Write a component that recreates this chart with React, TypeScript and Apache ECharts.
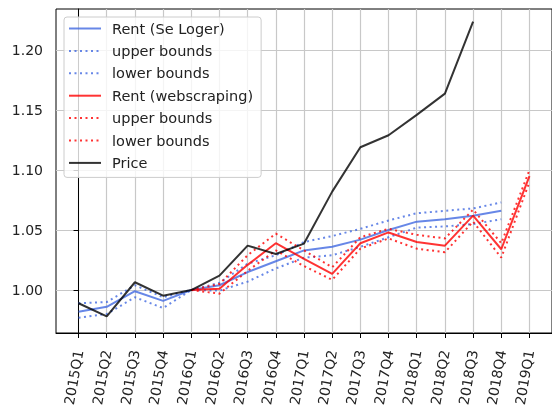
import React, { useEffect, useRef } from "react";
import * as echarts from "echarts";

const categories = [
  "2015Q1", "2015Q2", "2015Q3", "2015Q4",
  "2016Q1", "2016Q2", "2016Q3", "2016Q4",
  "2017Q1", "2017Q2", "2017Q3", "2017Q4",
  "2018Q1", "2018Q2", "2018Q3", "2018Q4",
  "2019Q1",
];

// Rent (Se Loger): 2015Q1..2018Q4
const seLoger = [0.982, 0.986, 0.999, 0.991, 1.0, 1.004, 1.015, 1.024, 1.033, 1.036, 1.042, 1.05, 1.057, 1.059, 1.062, 1.066];
const seLogerUpper = [0.989, 0.99, 1.004, 0.994, 1.0, 1.006, 1.022, 1.029, 1.04, 1.045, 1.051, 1.058, 1.064, 1.066, 1.068, 1.073];
const seLogerLower = [0.977, 0.98, 0.994, 0.985, 1.0, 0.9995, 1.007, 1.018, 1.027, 1.029, 1.036, 1.044, 1.052, 1.053, 1.055, 1.059];

// Rent (webscraping): 2016Q1..2019Q1
const webStart = 4;
const web = [1.0, 1.001, 1.021, 1.039, 1.026, 1.0135, 1.039, 1.048, 1.04, 1.037, 1.062, 1.034, 1.095];
const webUpper = [1.0, 1.005, 1.029, 1.047, 1.033, 1.019, 1.044, 1.051, 1.046, 1.043, 1.067, 1.039, 1.1];
const webLower = [1.0, 0.997, 1.016, 1.033, 1.02, 1.0085, 1.0345, 1.043, 1.0345, 1.0315, 1.057, 1.027, 1.09];

// Price: 2015Q1..2018Q3
const price = [0.989, 0.978, 1.0065, 0.9953, 1.0, 1.012, 1.037, 1.03, 1.0387, 1.082, 1.119, 1.129, 1.146, 1.1637, 1.2237];

const yTicks = [1.0, 1.05, 1.1, 1.15, 1.2];

const toPts = (arr: number[], start = 0) => arr.map((v, i) => [start + i, v]);

export default function App() {
  const ref = useRef<HTMLDivElement>(null);
  useEffect(() => {
    if (!ref.current) return;
    const chart = echarts.init(ref.current, undefined, { renderer: "svg" });
    const font = "DejaVu Sans";
    const blue = "rgba(65,105,225,0.8)";
    const red = "rgba(255,0,0,0.8)";
    const black = "rgba(0,0,0,0.8)";
    const dot = [2, 3.5];
    const mk = (name: string, data: number[][], color: string, dotted: boolean) => ({
      type: "line",
      name,
      data,
      symbol: "none",
      lineStyle: { color, width: 2, type: dotted ? dot : "solid", cap: "butt" },
      itemStyle: { color },
      z: 3,
    });
    const idx = categories.map((_, i) => i);
    chart.setOption({
      animation: false,
      grid: {
        left: 56,
        top: 9,
        width: 498.8,
        height: 324,
        show: true,
        borderColor: "#000",
        borderWidth: 1,
        backgroundColor: "transparent",
      },
      legend: {
        orient: "vertical",
        left: 64,
        top: 17,
        padding: [4, 8, 7, 4],
        itemWidth: 32,
        itemHeight: 14,
        itemGap: 7.4,
        itemStyle: { opacity: 0 },
        backgroundColor: "rgba(255,255,255,0.8)",
        borderColor: "#cccccc",
        borderWidth: 1,
        borderRadius: 3,
        textStyle: { fontFamily: font, fontSize: 14.5, color: "#222", lineHeight: 14, padding: [0, 0, 0, 6] },
        formatter: (n: string) => n.trim(),
        data: ["Rent (Se Loger)", "upper bounds", "lower bounds", "Rent (webscraping)", "upper bounds ", "lower bounds ", "Price"],
      },
      xAxis: {
        type: "value",
        min: -0.8,
        max: 16.8,
        axisLine: { show: true, lineStyle: { color: "#000", width: 1 } },
        axisTick: { show: true, customValues: idx, length: 5, lineStyle: { color: "#000" } },
        axisLabel: {
          customValues: idx,
          formatter: (v: number) => categories[Math.round(v)] ?? "",
          rotate: 80,
          fontFamily: font,
          fontSize: 14,
          color: "#222",
          margin: 17,
          padding: [6, 0, 0, 0],
        },
        splitLine: { show: true, lineStyle: { color: "#c8c8c8", width: 1.2 } },
      },
      yAxis: {
        type: "value",
        min: 0.9642,
        max: 1.2342,
        axisLine: { show: true, lineStyle: { color: "#000", width: 1 } },
        axisTick: { show: true, customValues: yTicks, length: 5, lineStyle: { color: "#000" } },
        axisLabel: {
          customValues: yTicks,
          formatter: (v: number) => v.toFixed(2),
          fontFamily: font,
          fontSize: 14,
          color: "#222",
          margin: 13,
        },
        splitLine: { show: true, lineStyle: { color: "#c8c8c8", width: 1.2 } },
      },
      series: [
        mk("Rent (Se Loger)", toPts(seLoger), blue, false),
        mk("upper bounds", toPts(seLogerUpper), blue, true),
        mk("lower bounds", toPts(seLogerLower), blue, true),
        mk("Rent (webscraping)", toPts(web, webStart), red, false),
        mk("upper bounds ", toPts(webUpper, webStart), red, true),
        mk("lower bounds ", toPts(webLower, webStart), red, true),
        mk("Price", toPts(price), black, false),
      ],
    });
    return () => chart.dispose();
  }, []);
  return <div ref={ref} style={{ position: "fixed", left: 0, top: 0, width: 552, height: 412 }} />;
}
